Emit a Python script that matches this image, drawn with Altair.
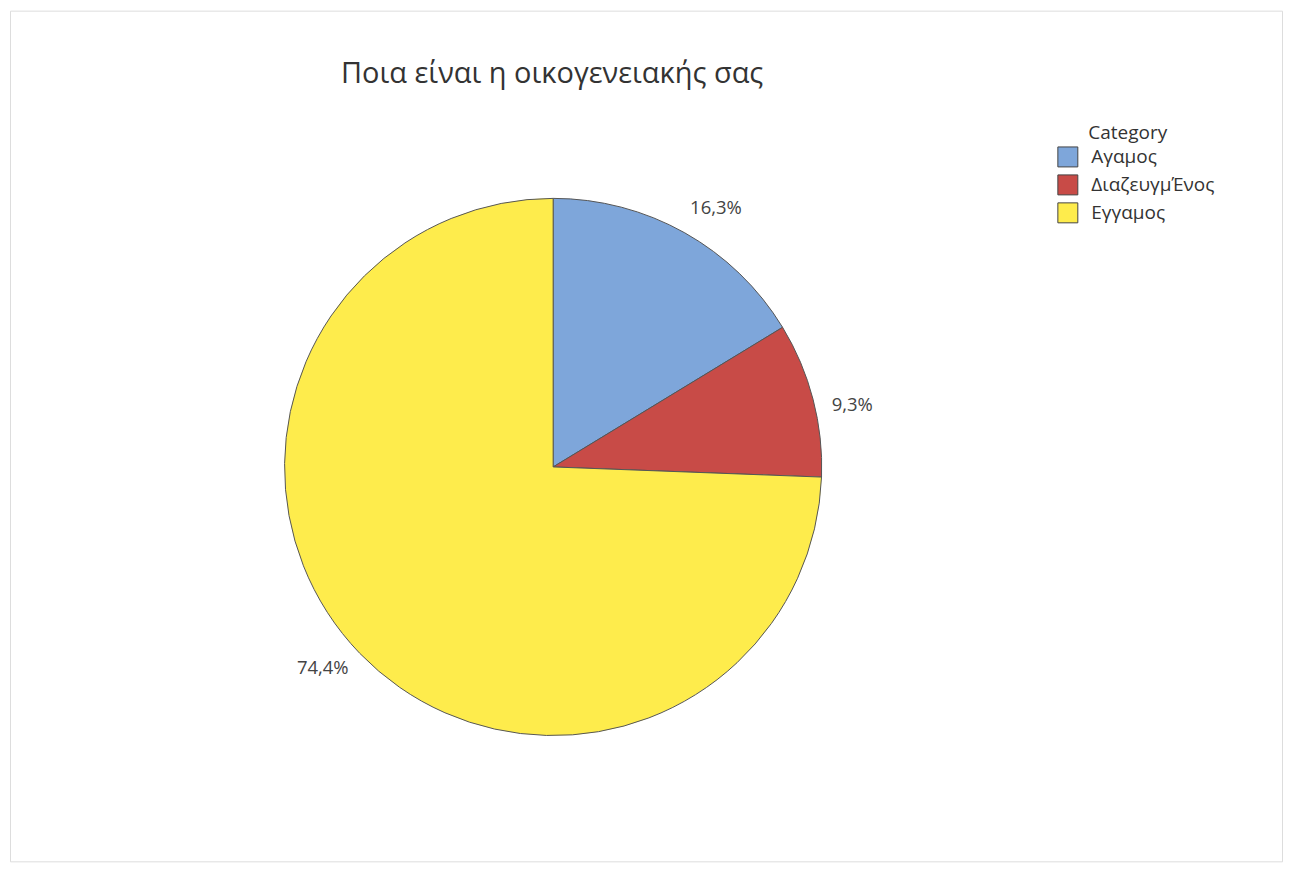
import altair as alt
import pandas as pd

categories = ["Αγαμος", "ΔιαζευγμΈνος", "Εγγαμος"]
percents = [16.3, 9.3, 74.4]
labels = ["16,3%", "9,3%", "74,4%"]
colors = ["#7EA6DA", "#C84B47", "#FEEC4C"]

df = pd.DataFrame({"Category": categories, "Percent": percents, "Label": labels,
                   "order": [0, 1, 2]})

FONT = "Open Sans"
CX, CY = 544, 457

base = alt.Chart(df).encode(
    theta=alt.Theta("Percent:Q", stack=True),
    order=alt.Order("order:Q"),
)

pie = base.mark_arc(radius=269, stroke="#555555", strokeWidth=1).encode(
    x=alt.value(CX), y=alt.value(CY),
    color=alt.Color(
        "Category:N",
        scale=alt.Scale(domain=categories, range=colors),
        legend=alt.Legend(
            title=None, orient="none", legendX=1049, legendY=136,
            labelFont=FONT, labelFontSize=19, labelColor="#333333",
            symbolType="square", symbolSize=400, symbolStrokeColor="#444444",
            symbolStrokeWidth=1, rowPadding=3, labelOffset=13,
        ),
    ),
)

text = base.mark_text(radius=306, thetaOffset=0.05, font=FONT, fontSize=18.5,
                      color="#444444", align="center", baseline="middle").encode(
    x=alt.value(CX), y=alt.value(CY),
    text="Label:N",
)

legend_title = alt.Chart(pd.DataFrame({"t": ["Category"]})).mark_text(
    font=FONT, fontSize=19, color="#333333", align="left", baseline="middle"
).encode(x=alt.value(1080), y=alt.value(123), text="t:N")

title_text = alt.Chart(pd.DataFrame({"t": ["Ποια είναι η οικογενειακής σας"]})).mark_text(
    font=FONT, fontSize=29, color="#333333", align="center", baseline="middle"
).encode(x=alt.value(543), y=alt.value(63), text="t:N")

chart = alt.layer(pie, text, legend_title, title_text).properties(
    width=1274, height=852,
    autosize=alt.AutoSizeParams(type="none"),
    padding=2,
).configure_view(stroke="#A8A8A8", strokeWidth=1.5).configure(background="white")

chart.save("out.html", embed_options={"renderer": "svg", "actions": False})
